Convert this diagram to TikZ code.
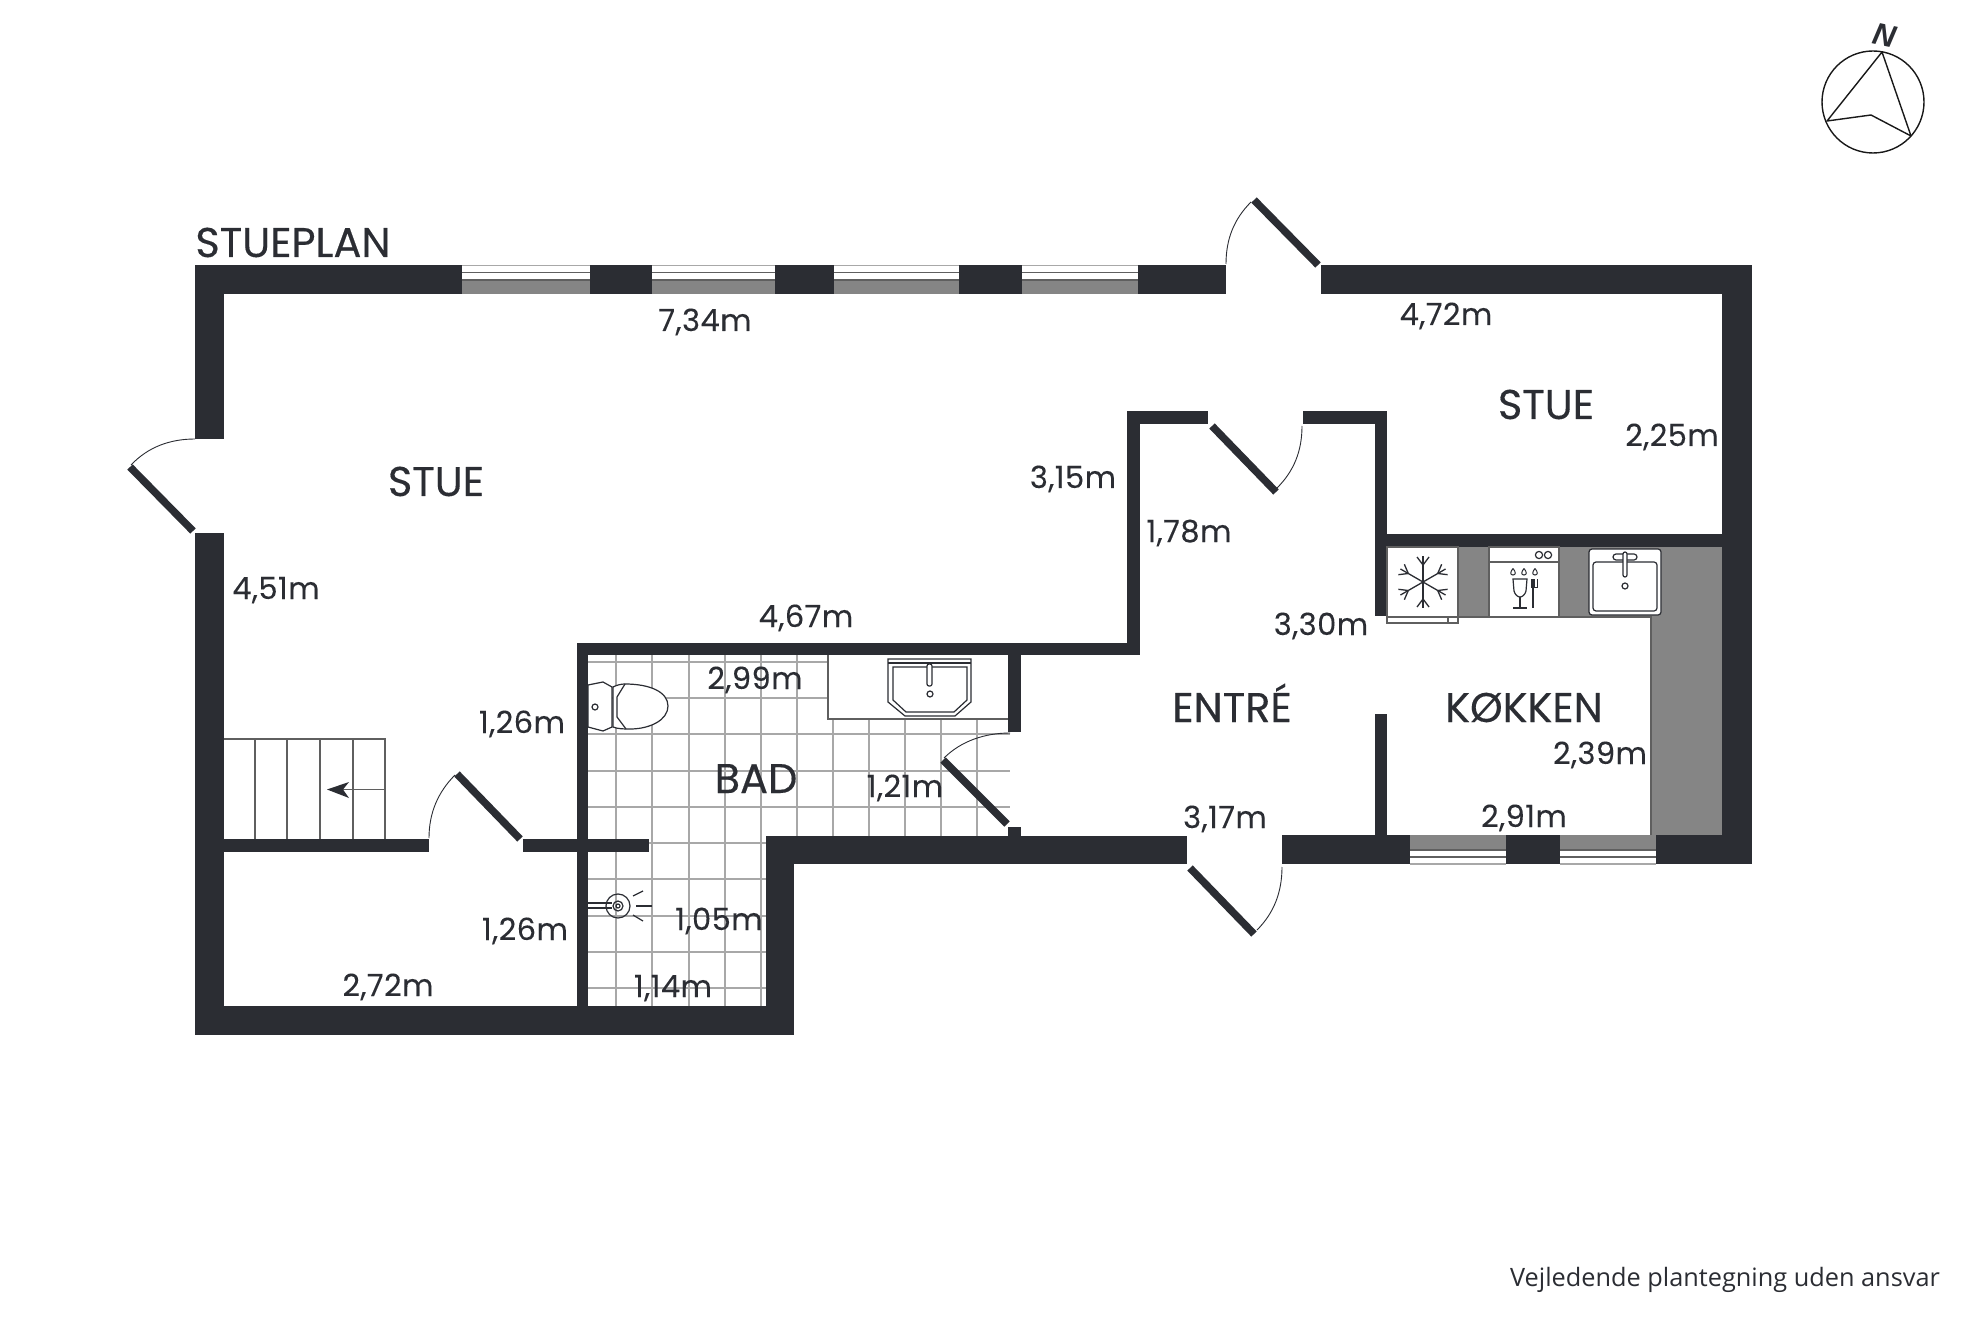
\documentclass[tikz,border=0pt]{standalone}
\usepackage{fontspec}
\setmainfont{Poppins}
\newfontfamily\roomfont[FakeBold=0.35]{Poppins}
\newfontfamily\dimfont[FakeBold=0.15,LetterSpace=1.5]{Poppins}
\newfontfamily\notefont{Open Sans}
\newfontfamily\helvfont{Liberation Sans}
\definecolor{wallc}{HTML}{2B2D33}
\definecolor{grayc}{HTML}{858585}
\definecolor{edgec}{HTML}{5F5F5F}
\definecolor{tilec}{HTML}{A8A8A8}
\definecolor{inkc}{HTML}{2B2D33}
\tikzset{
  wall/.style={fill=wallc,draw=none},
  leaf/.style={draw=wallc,line width=7.5pt},
  swing/.style={draw=wallc,line width=0.9pt},
  fixture/.style={draw=wallc,line width=1.2pt},
  fixfill/.style={draw=wallc,line width=1.2pt,fill=white},
  dim/.style={anchor=base,inner sep=0pt,text=inkc,font=\dimfont\fontsize{30.5}{33}\selectfont},
  room/.style={anchor=base,inner sep=0pt,text=inkc,font=\roomfont\fontsize{41.5}{44}\selectfont},
  tile/.style={draw=tilec,line width=1.1pt},
}
\begin{document}
\begin{tikzpicture}[x=1pt,y=-1pt]
\useasboundingbox (0,0) rectangle (1982,1321);
\fill[white] (0,0) rectangle (1982,1321);

% tiles
\foreach \yy in {662,698,734,771,807}{\draw[tile] (588,\yy) -- (1010,\yy);}
\foreach \yy in {843,879,916,952,988}{\draw[tile] (588,\yy) -- (766,\yy);}
\foreach \xx in {616,652,689,725,761}{\draw[tile] (\xx,655) -- (\xx,1006);}
\foreach \xx in {797,833,869,905,941,977}{\draw[tile] (\xx,655) -- (\xx,836);}
\fill[white] (766,836) rectangle (800,1006);
% counter
\fill[white] (828,655) rectangle (1008,719);
\draw[edgec,line width=1.1pt] (828,655) -- (828,719) -- (1008,719);

% kitchen floor units
\fill[grayc] (1387,547) rectangle (1722,617);
\fill[grayc] (1651,547) rectangle (1722,835);
\draw[edgec,line width=1.3pt] (1458,617) -- (1651,617) -- (1651,835);

% windows, top
\foreach \a/\b in {462/590,652/775,834/959,1022/1138}{
  \fill[grayc] (\a,280) rectangle (\b,294);
  \draw[edgec,line width=2pt] (\a,280) -- (\b,280);
  \draw[edgec,line width=1.6pt] (\a,272.5) -- (\b,272.5);
  \draw[tilec,line width=1.2pt] (\a,265.5) -- (\b,265.5);
}
% windows, bottom
\foreach \a/\b in {1410/1506,1560/1656}{
  \fill[grayc] (\a,835) rectangle (\b,850);
  \draw[edgec,line width=1.6pt] (\a,850) -- (\b,850);
  \draw[edgec,line width=1.6pt] (\a,857) -- (\b,857);
  \draw[tilec,line width=1.2pt] (\a,864) -- (\b,864);
}

% walls
\fill[wall] (195,265) rectangle (224,439);
\fill[wall] (195,533) rectangle (224,1035);
\fill[wall] (195,265) rectangle (462,294);
\fill[wall] (590,265) rectangle (652,294);
\fill[wall] (775,265) rectangle (834,294);
\fill[wall] (959,265) rectangle (1022,294);
\fill[wall] (1138,265) rectangle (1226,294);
\fill[wall] (1321,265) rectangle (1752,294);
\fill[wall] (1722,265) rectangle (1752,864);
\fill[wall] (1127,411) rectangle (1208,424);
\fill[wall] (1303,411) rectangle (1387,424);
\fill[wall] (1127,411) rectangle (1140,655);
\fill[wall] (1375,411) rectangle (1387,616);
\fill[wall] (1375,714) rectangle (1387,840);
\fill[wall] (1375,534) rectangle (1722,547);
\fill[wall] (577,643) rectangle (1140,655);
\fill[wall] (577,643) rectangle (588,1035);
\fill[wall] (1008,655) rectangle (1021,732);
\fill[wall] (1008,827) rectangle (1021,840);
\fill[wall] (766,836) rectangle (1187,864);
\fill[wall] (1282,835) rectangle (1410,864);
\fill[wall] (1506,835) rectangle (1560,864);
\fill[wall] (1656,835) rectangle (1752,864);
\fill[wall] (766,836) rectangle (794,1035);
\fill[wall] (195,1006) rectangle (794,1035);
\fill[wall] (224,839) rectangle (429,852);
\fill[wall] (523,839) rectangle (649,852);

% doors
\draw[leaf] (1318,265) -- (1254,200);
\draw[swing] (1226,264) .. controls (1226,239) and (1234,219) .. (1251,202);
\draw[leaf] (193,531) -- (130,467);
\draw[swing] (195,439) .. controls (170,439) and (148,447) .. (131,465);
\draw[leaf] (1212,426) -- (1276,492);
\draw[swing] (1302,426) .. controls (1302,451) and (1294,471) .. (1277,488);
\draw[leaf] (1190,868) -- (1254,934);
\draw[swing] (1282,867) .. controls (1282,892) and (1274,913) .. (1257,930);
\draw[leaf] (520,839) -- (457,774);
\draw[swing] (429,838) .. controls (429,813) and (438,792) .. (455,775);
\draw[leaf] (1007,824) -- (943,760);
\draw[swing] (1010,733) .. controls (985,733) and (961,741) .. (944,758);

% stairs
\draw[edgec,line width=1.3pt] (224,739) -- (385,739) -- (385,839);
\foreach \xx in {255,287,320,353}{\draw[edgec,line width=1.3pt] (\xx,739) -- (\xx,839);}
\draw[edgec,line width=1.3pt] (343,789.5) -- (385,789.5);
\fill[wallc] (327,789.5) -- (349,782) -- (343,789.5) -- (349,798) -- cycle;

% toilet
\draw[fixfill] (613,687) .. controls (617,685) and (621,684) .. (625,684) .. controls (650,684) and (668,692) .. (668,706) .. controls (668,720) and (650,729) .. (630,729) .. controls (624,729) and (618,729) .. (613,727) -- cycle;
\draw[fixture] (625,684) -- (617,697) -- (617,717) -- (626,729);
\draw[fixfill] (588,685) -- (603,682) -- (612,687) -- (612,727) -- (603,731) -- (588,727) -- cycle;
\draw[fixture] (595,707) circle[radius=3pt];

% bathroom sink
\draw[fixture] (888,659) -- (971,659) -- (971,702) -- (955,716) -- (905,716) -- (888,702) -- cycle;
\draw[fixture] (888,663) -- (971,663);
\draw[fixture] (893,667) -- (967,667) -- (967,700) -- (954,712) -- (906,712) -- (893,700) -- cycle;
\draw[fixture,fill=white,rounded corners=2pt] (927,664) rectangle (932,686);
\draw[fixture] (930,694) circle[radius=3pt];

% shower
\draw[fixture] (588,903) -- (612,903);
\draw[fixture] (588,908) -- (612,908);
\draw[fixture] (618,906) circle[radius=12pt];
\draw[fixture] (618,906) circle[radius=5pt];
\draw[fixture] (618,906) circle[radius=2pt];
\draw[fixture] (636,906) -- (652,906);
\draw[fixture] (633,896) -- (643,891);
\draw[fixture] (633,915) -- (643,921);

% fridge
\draw[fill=white,draw=edgec,line width=1.2pt] (1387,617) rectangle (1458,623);
\draw[edgec,line width=1.2pt] (1448,617) -- (1448,623);
\draw[fill=white,draw=edgec,line width=1.3pt] (1387,547) rectangle (1458,617);
\foreach \ang in {30,90,150,210,270,330}{
  \begin{scope}[shift={(1423,582)},rotate=\ang]
    \draw[wallc,line width=1.3pt] (0,0) -- (26,0);
    \draw[wallc,line width=1.3pt] (17,0) -- (25,6);
    \draw[wallc,line width=1.3pt] (17,0) -- (25,-6);
  \end{scope}
}
% dishwasher
\draw[fill=white,draw=edgec,line width=1.3pt] (1489,547) rectangle (1559,617);
\draw[edgec,line width=1.3pt] (1489,562) -- (1559,562);
\draw[fixture] (1539,555) circle[radius=3.6pt];
\draw[fixture] (1548,555) circle[radius=3.6pt];
\foreach \xx in {1513,1524,1535}{
  \draw[fixture,line width=1pt] (\xx,568.5) .. controls (\xx+3,572) and (\xx+3,575) .. (\xx,575) .. controls (\xx-3,575) and (\xx-3,572) .. (\xx,568.5);
}
\draw[fixture] (1513,579) -- (1527,579) -- (1526,591) .. controls (1525,595) and (1522,597) .. (1520,597) .. controls (1518,597) and (1515,595) .. (1514,591) -- cycle;
\draw[fixture] (1520,597) -- (1520,608);
\draw[fixture] (1513,608) -- (1527,608);
\draw[fixture] (1533,579) -- (1533,608);
\draw[fixture,line width=.9pt] (1531,579) -- (1531,587) -- (1537,587) -- (1537,579);
\draw[fixture,line width=.9pt] (1534,579) -- (1534,587);
% kitchen sink
\draw[fill=white,draw=wallc,line width=1.2pt,rounded corners=3pt] (1589,549) rectangle (1661,615);
\draw[fixture,rounded corners=3pt] (1593,562) rectangle (1657,611);
\draw[fixfill,rounded corners=3pt] (1613,554) rectangle (1637,560);
\draw[fixfill,rounded corners=2pt] (1623,552) rectangle (1627,577);
\draw[fixture] (1625,586) circle[radius=3pt];

% compass
\draw[black!90,line width=1.4pt] (1873,102) circle[radius=51pt];
\draw[black!90,line width=1.4pt,line join=round] (1882,52) -- (1911,136) -- (1871,115) -- (1827,121) -- cycle;
\node[inner sep=0pt,text=inkc,rotate=-12,font=\helvfont\bfseries\itshape\fontsize{31}{33}\selectfont] (north) at (1885,35) {N};

% labels
\node[room] (title) at (293,257) {STUEPLAN};
\node[room] (stueA) at (436,496) {STUE};
\node[room] (stueB) at (1546,419) {STUE};
\node[room] (entre) at (1232,722) {ENTRÉ};
\node[room] (kokken) at (1524,722) {KØKKEN};
\node[room] (bad) at (756,793) {BAD};

\node[dim] (d734) at (705,331) {7,34m};
\node[dim] (d472) at (1446,325) {4,72m};
\node[dim] (d225) at (1672,446) {2,25m};
\node[dim] (d315) at (1073,488) {3,15m};
\node[dim] (d178) at (1189,542) {1,78m};
\node[dim] (d330) at (1321,635) {3,30m};
\node[dim] (d451) at (276,599) {4,51m};
\node[dim] (d467) at (806,627) {4,67m};
\node[dim] (d299) at (755,689) {2,99m};
\node[dim] (d126a) at (522,733) {1,26m};
\node[dim] (d239) at (1600,764) {2,39m};
\node[dim] (d121) at (905,797) {1,21m};
\node[dim] (d317) at (1225,828) {3,17m};
\node[dim] (d291) at (1524,827) {2,91m};
\node[dim] (d126b) at (525,940) {1,26m};
\node[dim] (d105) at (719,930) {1,05m};
\node[dim] (d272) at (388,996) {2,72m};
\node[dim] (d114) at (673,997) {1,14m};

\node[anchor=base,inner sep=0pt,text=inkc,font=\notefont\fontsize{25.3}{27}\selectfont] (note) at (1725,1286) {Vejledende plantegning uden ansvar};
\end{tikzpicture}
\end{document}
